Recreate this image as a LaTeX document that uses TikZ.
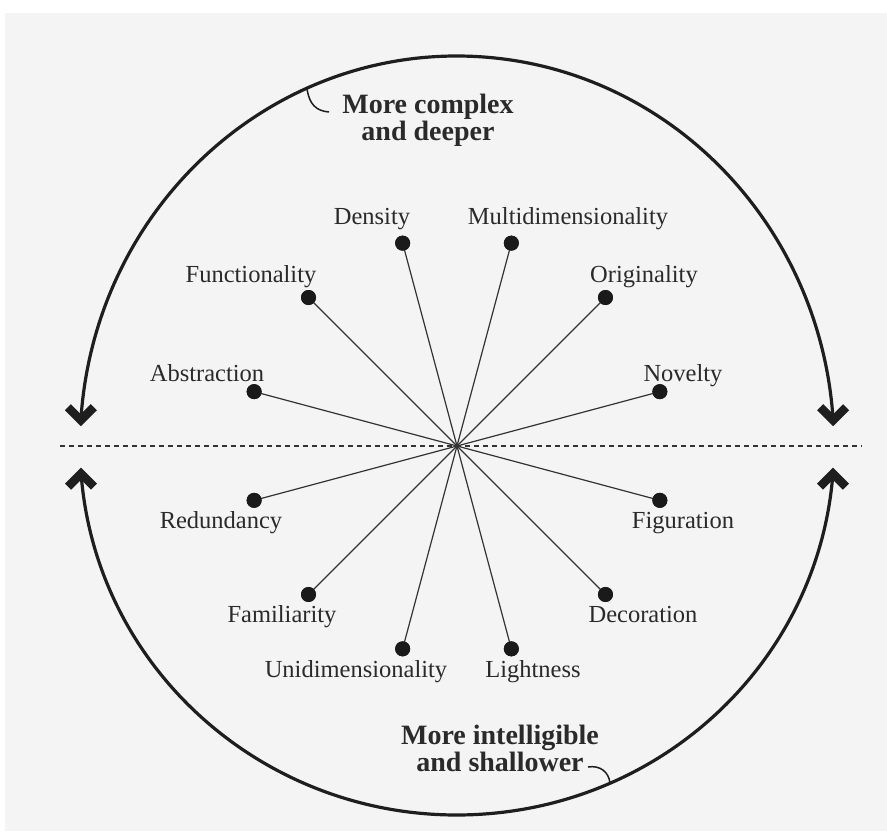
\documentclass[tikz,border=0pt]{standalone}
\usepackage{fontspec}
\setmainfont{Liberation Serif}
\definecolor{bgc}{HTML}{F4F4F4}
\definecolor{txtc}{HTML}{2A2A2A}
\definecolor{arcc}{HTML}{1E1E1E}
\definecolor{spokec}{HTML}{333333}
\definecolor{dotc}{HTML}{1A1A1A}
\begin{document}
\begin{tikzpicture}[x=1pt,y=1pt,
  dotnode/.style={circle,fill=dotc,inner sep=0pt,minimum size=15pt},
  spoke/.style={line width=1.2pt,draw=spokec},
  lbl/.style={font=\fontsize{24.5}{28}\selectfont,text=txtc,inner sep=0pt,anchor=base},
  bigtext/.style={font=\fontsize{28}{25}\selectfont\bfseries,text=txtc,align=center,inner sep=0pt,anchor=base},
  bigarc/.style={line width=3.2pt,draw=arcc},
  chev/.style={line width=8.5pt,draw=arcc,line join=miter,line cap=butt},
  leader/.style={line width=1.5pt,draw=arcc},
  midline/.style={line width=2.2pt,draw=spokec,dash pattern=on 5pt off 4pt}]
\useasboundingbox (-457,-385) rectangle (430,446);
\fill[white] (-457,-385) rectangle (430,446);
\fill[bgc] (-452,-385) rectangle (430,433);

% dashed horizon
\coordinate (ml) at (-397,0);
\coordinate (mr) at (405,0);
\draw[midline] (ml) -- (mr);

% spokes
\coordinate (c) at (0,0);
\foreach \i in {0,...,11} {
  \node[dotnode] (d\i) at ({15+30*\i}:210) {};
  \draw[spoke] (c) -- (d\i.center);
}
\foreach \i in {0,...,11} {
  \node[dotnode] at (d\i) {};
}

% labels
\node[lbl] (tNov)  at (226,65)   {Novelty};
\node[lbl] (tOri)  at (187,164)  {Originality};
\node[lbl] (tMul)  at (111,222)  {Multidimensionality};
\node[lbl] (tDen)  at (-85,222)  {Density};
\node[lbl] (tFun)  at (-206,164) {Functionality};
\node[lbl] (tAbs)  at (-250,65)  {Abstraction};
\node[lbl] (tRed)  at (-236,-82) {Redundancy};
\node[lbl] (tFam)  at (-175,-176) {Familiarity};
\node[lbl] (tUni)  at (-101,-231) {Unidimensionality};
\node[lbl] (tLig)  at (76,-231)  {Lightness};
\node[lbl] (tDec)  at (186,-176) {Decoration};
\node[lbl] (tFig)  at (226,-82)  {Figuration};

% big arcs with chevron heads
\coordinate (atl) at (176.2:377 and 390);
\coordinate (atr) at (3.8:377 and 390);
\coordinate (abl) at (184.3:377 and 369);
\coordinate (abr) at (355.7:377 and 369);
\draw[bigarc] (atl) arc[start angle=176.2,end angle=3.8,x radius=377,y radius=390];
\draw[bigarc] (abl) arc[start angle=184.3,end angle=355.7,x radius=377,y radius=369];
\draw[chev] (atl) ++(-13,13) -- (atl) -- ++(13,13);
\draw[chev] (atr) ++(-13,13) -- (atr) -- ++(13,13);
\draw[chev] (abl) ++(-13,-13) -- (abl) -- ++(13,-13);
\draw[chev] (abr) ++(-13,-13) -- (abr) -- ++(13,-13);

% captions
\node[bigtext] (top) at (-29,306) {More complex\\and deeper};
\node[bigtext] (bot) at (43,-325) {More intelligible\\and shallower};

% leaders
\coordinate (ta) at (113.45:377 and 390);
\coordinate (tl) at (-128,334);
\draw[leader] (ta) .. controls (-148,342) and (-141,335) .. (tl);
\coordinate (ba) at (-66.06:377 and 369);
\coordinate (bl) at (131,-321);
\draw[leader] (bl) .. controls (143,-319) and (152,-326) .. (ba);
\end{tikzpicture}
\end{document}
